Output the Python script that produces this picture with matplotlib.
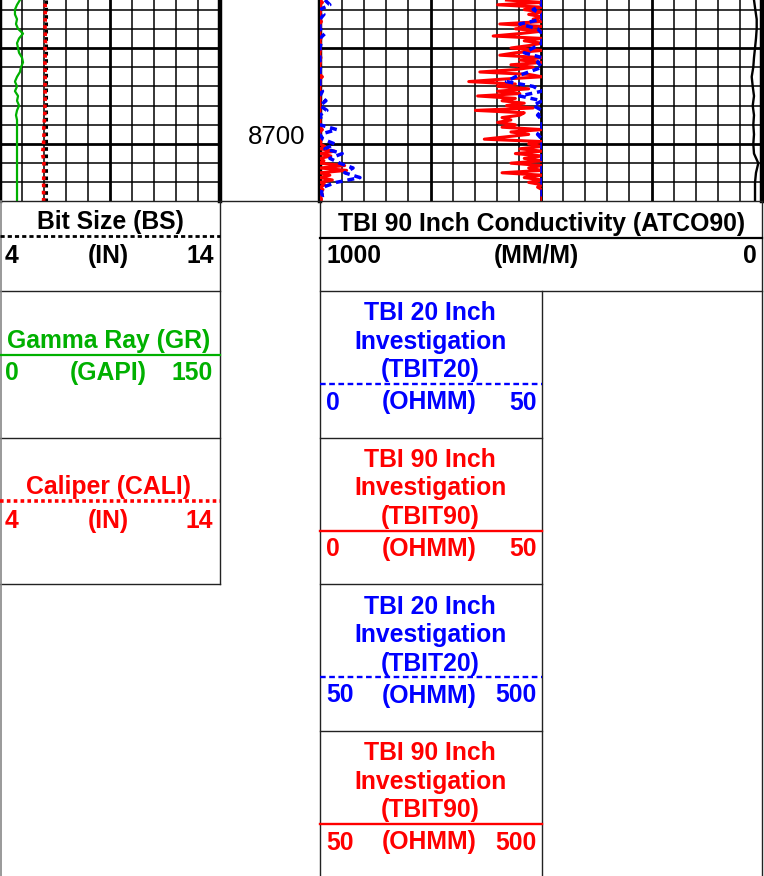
import numpy as np
import matplotlib.pyplot as plt

plt.rcParams['font.family'] = ['Liberation Sans', 'DejaVu Sans']

W, H = 764, 876
GREEN = '#00b000'
RED = '#ff0000'
BLUE = '#0000ff'

# depth window shown in the log (ft)
top_depth, base_depth = 8685.0, 8705.94
major_depth = [8690, 8700]
minor_depth = np.arange(8686, 8705, 2)

# gamma ray (GAPI), 0.5 ft samples
gr_depth = np.arange(8685, 8706.01, 0.5)
gr = [13.6, 11.6, 10.2, 10.2, 11.6, 10.9, 12.3, 15.7, 13.0, 11.6,
      12.3, 13.0, 15.0, 15.7, 14.3, 13.6, 11.6, 10.2, 11.6, 10.2,
      12.3, 11.6, 13.0, 11.6, 10.9, 11.6, 11.6, 11.6, 11.6, 11.6,
      11.6, 11.6, 11.6, 11.6, 11.6, 11.6, 11.6, 11.6, 11.6, 11.6,
      11.6, 11.6, 11.6]

# caliper and bit size (IN)
cali_depth = np.arange(8685, 8706.01, 0.5)
cali = [6.06, 6.05, 6.07, 6.05, 6.06, 6.04, 6.05, 6.06, 6.05, 6.07,
        6.05, 6.06, 6.05, 6.04, 6.06, 6.05, 6.05, 6.06, 6.04, 6.05,
        6.06, 6.05, 6.04, 6.05, 6.03, 6.02, 6.00, 5.99, 6.00, 5.99,
        5.98, 5.96, 5.92, 5.98, 6.00, 5.99, 5.98, 5.99, 5.98, 5.99,
        5.98, 5.99, 5.98]
bs_depth = [8685, 8706]
bs = [6.1, 6.1]

# 90 inch conductivity (MM/M), 1 ft samples
atco_depth = np.arange(8685, 8706.01, 1.0)
atco90 = [18.1, 15.2, 12.0, 12.0, 13.6, 15.8, 18.1, 19.7, 23.3, 21.0,
          18.1, 21.0, 18.1, 19.7, 18.1, 19.7, 18.1, 8.4, 13.6, 15.8,
          15.8, 15.8]

# 90 inch resistivity (OHMM), 0.25 ft samples
t90_depth = np.arange(8685, 8706.01, 0.25)
tbit90 = [42, 55, 40, 52, 46, 51, 47, 52, 48, 53,
          40.5, 51, 44, 50, 45, 39, 52, 46, 51, 47,
          43, 51, 44, 40.5, 52, 45, 51, 43, 48, 44,
          36, 47, 55, 41, 33.5, 44, 40, 47, 40, 45,
          35.5, 44, 41, 46, 42, 48, 35, 46, 45, 41,
          43, 40, 44, 41, 55, 43, 47, 42, 37, 52,
          47, 60, 45, 80, 44, 72, 46, 58, 43, 100,
          47, 104, 41, 70, 46, 75, 47, 60, 49, 56,
          52, 55, 51, 53, 52]

# 20 inch resistivity (OHMM), 0.5 ft samples
t20_depth = np.arange(8685, 8706.01, 0.5)
tbit20 = [60, 70, 48, 58, 50, 45, 49, 60, 50, 52,
          48, 46, 50, 49, 51, 47, 44, 42, 48, 55,
          45, 62, 48, 64, 49, 53, 50, 84, 49, 56,
          80, 60, 95, 70, 90, 117, 100, 131, 83, 56,
          53, 55, 52]


def px_rect(x0, x1, y0, y1):
    return [x0 / W, 1 - y1 / H, (x1 - x0) / W, (y1 - y0) / H]


def style_track(ax, xlim, major, minor):
    ax.set_xlim(*xlim)
    ax.set_ylim(base_depth, top_depth)
    ax.set_xticks(major)
    ax.set_xticks(minor, minor=True)
    ax.set_yticks(major_depth)
    ax.set_yticks(minor_depth, minor=True)
    ax.grid(which='major', color='black', lw=2.0)
    ax.grid(which='minor', color='black', lw=1.1)
    ax.tick_params(which='both', length=0, labelbottom=False, labelleft=False,
                   labeltop=False)
    for s in ['top', 'bottom']:
        ax.spines[s].set_visible(False)
    for s in ['left', 'right']:
        ax.spines[s].set_linewidth(3.2)


fig = plt.figure(figsize=(W / 100, H / 100), dpi=100)

# track 1: GR, caliper, bit size
ax_gr = fig.add_axes(px_rect(0, 220, 0, 201))
style_track(ax_gr, (0, 150), [0, 75, 150], np.arange(0, 151, 15))
ax_gr.plot(gr, gr_depth, color=GREEN, lw=1.6)
ax_cal = ax_gr.twiny()
ax_cal.set_xlim(4, 14)
ax_cal.axis('off')
ax_cal.plot(bs, bs_depth, color='black', lw=2.2, linestyle=(0, (1.2, 1.2)))
ax_cal.plot(cali, cali_depth, color=RED, lw=2.6, linestyle=(1.0, (1.0, 1.0)))

# depth track
ax_d = fig.add_axes(px_rect(220, 320, 0, 201), sharey=ax_gr)
ax_d.axis('off')
ax_d.text(0.57, 8700, '8700', transform=ax_d.get_yaxis_transform(),
          ha='center', va='baseline', fontsize=18.5)

# track 3: conductivity + resistivity with backup scale
ax_c = fig.add_axes(px_rect(320, 762, 0, 201))
style_track(ax_c, (1000, 0), [1000, 750, 500, 250, 0], np.arange(0, 1001, 50))
ax_c.plot(atco90, atco_depth, color='black', lw=1.7)

ax_r = fig.add_axes(px_rect(320, 542, 0, 201), sharey=ax_c)
ax_r.set_xlim(0, 50)
ax_r.axis('off')
ax_r.plot(np.clip(tbit90, 0, 50), t90_depth, color=RED, lw=2.2)
ax_r.plot(np.clip(tbit20, 0, 50), t20_depth, color=BLUE, lw=2.5, dashes=(2.0, 1.4))
ax_rb = ax_r.twiny()
ax_rb.set_xlim(50, 500)
ax_rb.axis('off')
ax_rb.plot(np.clip(tbit90, 50, 500), t90_depth, color=RED, lw=2.2)
ax_rb.plot(np.clip(tbit20, 50, 500), t20_depth, color=BLUE, lw=2.5, dashes=(2.0, 1.4))

# header panel in pixel coordinates
ov = fig.add_axes([0, 0, 1, 1])
ov.set_xlim(0, W)
ov.set_ylim(H, 0)
ov.axis('off')

frame = dict(color='#222222', lw=1.0)
for y, x0, x1 in [(201, 0, 762), (291, 0, 220), (437.5, 0, 220), (584, 0, 220),
                  (291, 320, 762), (437.5, 320, 542), (584, 320, 542), (731, 320, 542)]:
    ov.plot([x0, x1], [y, y], **frame)
for x, y0, y1 in [(220, 201, 584), (320, 201, 876), (542, 291, 876), (762, 201, 876)]:
    ov.plot([x, x], [y0, y1], **frame)
ov.plot([0.6, 0.6], [201, 876], color='#888888', lw=1.2)


def label(x, y, s, color='black', ha='center'):
    ov.text(x, y, s, color=color, ha=ha, va='baseline', fontsize=17.8,
            fontweight='bold')


def scale(y, lo, unit, hi, color, x0, xc, x1):
    label(x0, y, lo, color, ha='left')
    label(xc, y, unit, color)
    label(x1, y, hi, color, ha='right')


# track 1 headers
label(110, 229, 'Bit Size (BS)')
ov.plot([0, 220], [236, 236], color='black', lw=2.0, dashes=(1.5, 1.1))
scale(263, '4', '(IN)', '14', 'black', 5, 108, 214)

label(109, 348, 'Gamma Ray (GR)', GREEN)
ov.plot([0, 220], [355, 355], color=GREEN, lw=1.6)
scale(380, '0', '(GAPI)', '150', GREEN, 5, 108, 213)

label(108, 494, 'Caliper (CALI)', RED)
ov.plot([0, 220], [501, 501], color=RED, lw=2.6, dashes=(1.0, 0.9))
scale(528, '4', '(IN)', '14', RED, 5, 108, 213)

# track 3 headers
label(542, 231.5, 'TBI 90 Inch Conductivity (ATCO90)')
ov.plot([320, 762], [237.5, 237.5], color='black', lw=1.6)
scale(263, '1000', '(MM/M)', '0', 'black', 326, 536, 757)

res_boxes = [(291, 'TBI 20 Inch', '(TBIT20)', BLUE, '0', '50', True),
             (437.5, 'TBI 90 Inch', '(TBIT90)', RED, '0', '50', False),
             (584, 'TBI 20 Inch', '(TBIT20)', BLUE, '50', '500', True),
             (731, 'TBI 90 Inch', '(TBIT90)', RED, '50', '500', False)]
for top, line1, line3, color, lo, hi, dashed in res_boxes:
    label(430, top + 29.5, line1, color)
    label(430, top + 58, 'Investigation', color)
    label(430, top + 86.5, line3, color)
    if dashed:
        ov.plot([320, 542], [top + 93, top + 93], color=color, lw=1.7, dashes=(2.4, 1.5))
    else:
        ov.plot([320, 542], [top + 93, top + 93], color=color, lw=1.7)
    scale(top + 118.5, lo, '(OHMM)', hi, color, 326, 429, 537)

fig.savefig('out.png', dpi=100)
